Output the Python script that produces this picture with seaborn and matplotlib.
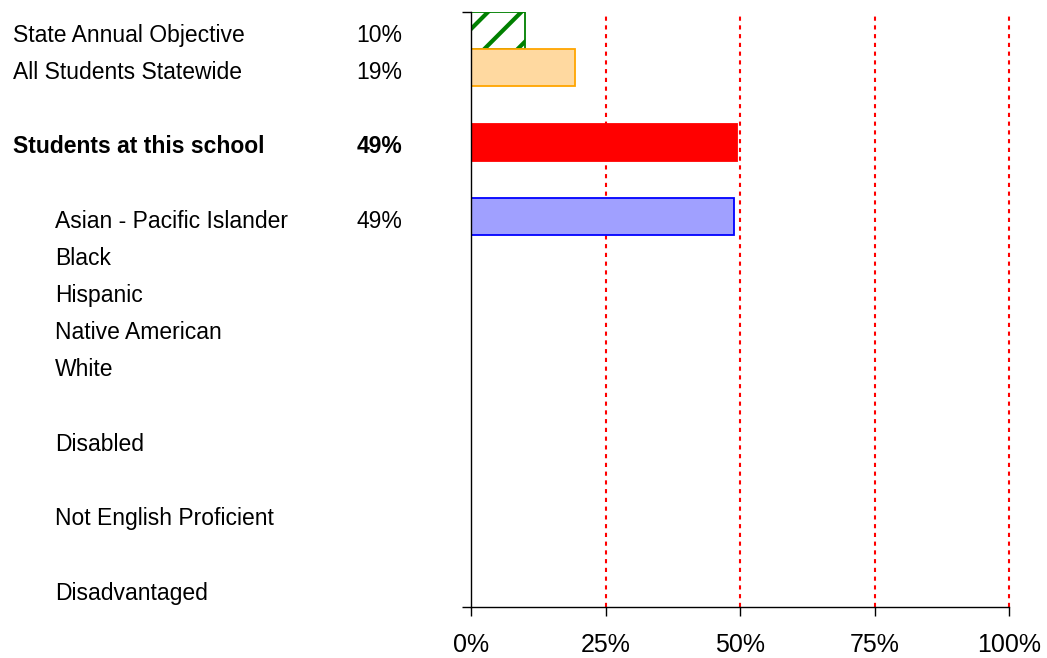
import pandas as pd
import matplotlib
matplotlib.use('Agg')
import matplotlib.pyplot as plt
import seaborn as sns

# data
grupos = ['State Annual Objective', 'All Students Statewide', 'Students at this school',
          'Asian - Pacific Islander', 'Black', 'Hispanic', 'Native American', 'White',
          'Disabled', 'Not English Proficient', 'Disadvantaged']
valores = [10.0, 19.3, 49.4, 48.9, None, None, None, None, None, None, None]
etiquetas = ['10%', '19%', '49%', '49%', '', '', '', '', '', '', '']
ticks_x = [0, 25, 50, 75, 100]
ticks_lbl = ['0%', '25%', '50%', '75%', '100%']

# layout (rows of the chart, blank rows in between)
filas = [0, 1, 3, 5, 6, 7, 8, 9, 11, 13, 15]
sangria = [False, False, False, True, True, True, True, True, True, True, True]
negrita = [False, False, True, False, False, False, False, False, False, False, False]
estilos = [
    dict(color='white', edgecolor='#008000', hatch='/'),
    dict(color='#FFD9A0', edgecolor='#FFA500', hatch=None),
    dict(color='#FF0000', edgecolor='#FF0000', hatch=None),
    dict(color='#A0A0FF', edgecolor='#0000FF', hatch=None),
]

df = pd.DataFrame({'grupo': grupos, 'valor': valores, 'fila': filas})

sns.set_style('white')
plt.rcParams['font.family'] = ['Liberation Sans', 'DejaVu Sans']
plt.rcParams['hatch.linewidth'] = 3.0
plt.rcParams['text.color'] = 'black'
plt.rcParams['xtick.color'] = 'black'
plt.rcParams['ytick.color'] = 'black'

fig = plt.figure(figsize=(10.47, 6.58), dpi=100)
ax = fig.add_axes([471/1047, 1-607/658, 538/1047, 595/658])

barras = df.dropna(subset=['valor']).reset_index(drop=True)
for i, row in barras.iterrows():
    sns.barplot(x=[row['valor']], y=[row['fila']], orient='h', native_scale=True,
                width=1, saturation=1, ax=ax, linewidth=1.3, zorder=3, **estilos[i])

# red dotted reference lines
for t in ticks_x[1:]:
    ax.axvline(t, color='red', linestyle=(0, (2, 2.2)), linewidth=1.5, zorder=1,
               clip_on=False)

ax.set_xlim(0, 100)
ax.set_ylim(15.5, -0.5)
ax.set_xticks(ticks_x)
ax.set_xticklabels(ticks_lbl, fontsize=18)
ax.set_yticks([-0.5, 15.5])
ax.set_yticklabels([])
ax.set_xlabel('')
ax.set_ylabel('')
ax.tick_params(axis='both', direction='out', length=6.5, width=1, color='black',
               bottom=True, left=True)
ax.tick_params(axis='x', pad=12)
for s in ['top', 'right']:
    ax.spines[s].set_visible(False)
for s in ['left', 'bottom']:
    ax.spines[s].set_color('black')
    ax.spines[s].set_linewidth(1)
    ax.spines[s].set_zorder(4)

# text labels on the left
trans = matplotlib.transforms.blended_transform_factory(fig.transFigure, ax.transData)
for g, f, e, ind, neg in zip(grupos, filas, etiquetas, sangria, negrita):
    x0 = 55/1047 if ind else 13/1047
    peso = 'bold' if neg else 'normal'
    ax.text(x0, f + 0.3, g, transform=trans, ha='left', va='baseline',
            fontsize=16.5, fontweight=peso)
    if e:
        ax.text(402/1047, f + 0.3, e, transform=trans, ha='right', va='baseline',
                fontsize=16.5, fontweight=peso)

plt.savefig('out.png', dpi=100)
